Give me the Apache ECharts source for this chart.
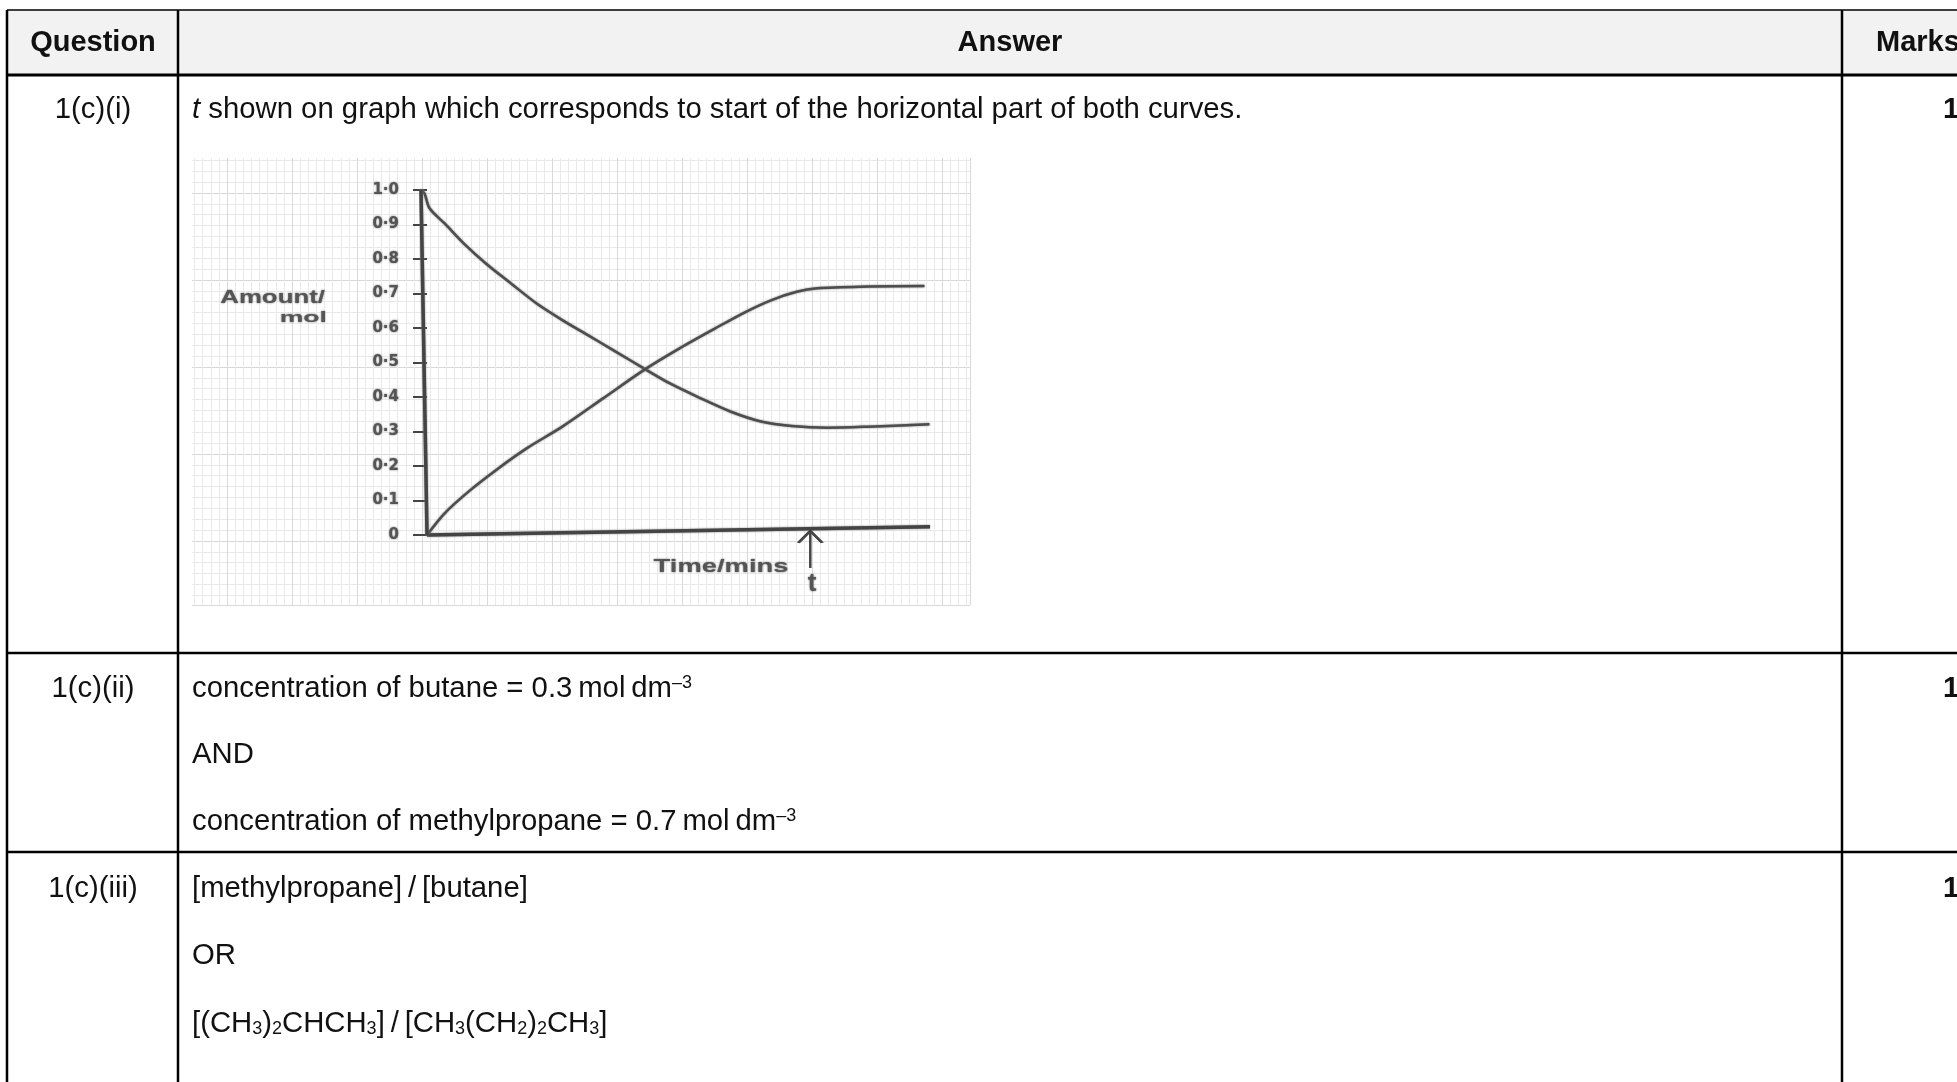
<!DOCTYPE html>
<html>
<head>
<meta charset="utf-8">
<style>
    html, body { margin: 0; padding: 0; background: #fff; }
    #chart { width: 1957px; height: 1082px; }
</style>
<script src="https://cdn.jsdelivr.net/npm/echarts@6/dist/echarts.min.js"></script>
</head>
<body>
<div id="chart"></div>
<script>
    // curves, [time, amount]
    var butane = [[-0.12,1.0],[-0.05,0.99],[0.05,0.947],[0.35,0.903],[0.76,0.841],[1.17,0.787],[1.67,0.729],[2.18,0.671],[2.69,0.623],[3.19,0.58],[3.7,0.536],[4.31,0.483],[4.82,0.44],[5.43,0.397],[6.03,0.358],[6.64,0.329],[7.25,0.316],[7.96,0.311],[8.77,0.314],[9.99,0.321]];
    var methylpropane = [[0,0],[0.35,0.063],[0.86,0.13],[1.37,0.188],[1.98,0.251],[2.69,0.314],[3.5,0.396],[4.31,0.478],[5.02,0.541],[5.73,0.599],[6.34,0.647],[6.85,0.681],[7.35,0.705],[7.76,0.715],[8.77,0.72],[9.89,0.722]];
    // the hand drawn axes are not quite straight on the paper
    var handXAxis = [[0,0],[10,0.024]];
    var handYAxis = [[-0.12,1],[0,0]];
    var tValue = 7.62;
    var tArrowFrom = -0.096;
    var tArrowTo = 0.012;
    var yTickValues = [0,0.1,0.2,0.3,0.4,0.5,0.6,0.7,0.8,0.9,1];
    var yTickLabels = ['0','0·1','0·2','0·3','0·4','0·5','0·6','0·7','0·8','0·9','1·0'];

    var headers = ['Question', 'Answer', 'Marks'];
    var questions = ['1(c)(i)', '1(c)(ii)', '1(c)(iii)'];
    var answerLines = [
        '{i|t}{n| shown on graph which corresponds to start of the horizontal part of both curves.}',
        '{n|concentration of butane = 0.3\u2009mol\u2009dm}{u|–3}',
        '{n|AND}',
        '{n|concentration of methylpropane = 0.7\u2009mol\u2009dm}{u|–3}',
        '{n|[methylpropane]\u2009/\u2009[butane]}',
        '{n|OR}',
        '{n|[(CH}{d|3}{n|)}{d|2}{n|CHCH}{d|3}{n|]\u2009/\u2009[CH}{d|3}{n|(CH}{d|2}{n|)}{d|2}{n|CH}{d|3}{n|]}'
    ];
    var answerY = [110, 689, 755, 822, 889, 956, 1024];
    var questionY = [110, 689, 889];
    var marks = ['1', '1', '1'];

    var FONT = '"Liberation Sans", Arial, sans-serif';
    var FS = 29.3;
    var rich = {
        n: { fontFamily: FONT, fontSize: FS, color: '#111' },
        i: { fontFamily: FONT, fontSize: FS, fontStyle: 'italic', color: '#111' },
        u: { fontFamily: FONT, fontSize: 18, color: '#111', verticalAlign: 'top' },
        d: { fontFamily: FONT, fontSize: 18, color: '#111', verticalAlign: 'bottom' }
    };

    function hline(y, w) {
        return { type: 'line', z: 10, shape: { x1: 7, y1: y, x2: 1957, y2: y }, style: { stroke: '#000', lineWidth: w } };
    }
    function vline(x) {
        return { type: 'line', z: 10, shape: { x1: x, y1: 10, x2: x, y2: 1082 }, style: { stroke: '#000', lineWidth: 2.5 } };
    }
    function label(x, y, text, align, extra, scaleX) {
        return {
            type: 'text', z: 11, x: x, y: y, scaleX: scaleX || 1,
            style: Object.assign({ text: text, align: align, verticalAlign: 'middle', font: FS + 'px ' + FONT, fill: '#111' }, extra || {})
        };
    }

    var graphic = [
        // hide the part of the paper grid that starts before the scan does
        { type: 'rect', z: 1, shape: { x: 160, y: 104, width: 812, height: 54 }, style: { fill: '#fff' } },
        { type: 'rect', z: 1, shape: { x: 160, y: 104, width: 32, height: 503 }, style: { fill: '#fff' } },
        { type: 'rect', z: 2, shape: { x: 7, y: 10, width: 1950, height: 65 }, style: { fill: '#f2f2f2' } },
        hline(10, 1.5), hline(75, 3), hline(653, 2.5), hline(852, 2.5),
        vline(7), vline(178), vline(1842)
    ];
    var boldFont = 'bold 29px ' + FONT;
    graphic.push(label(93, 43, headers[0], 'center', { font: boldFont }));
    graphic.push(label(1010, 43, headers[1], 'center', { font: boldFont }));
    graphic.push(label(1876, 43, headers[2], 'left', { font: boldFont }));
    questions.forEach(function (q, i) {
        graphic.push(label(93, questionY[i], q, 'center'));
        graphic.push(label(1943, questionY[i], marks[i], 'left', { font: boldFont }));
    });
    answerLines.forEach(function (line, i) {
        graphic.push(label(192, answerY[i], line, 'left', { rich: rich }));
    });
    // handwritten captions on the scan, wide and low
    var handStyle = { font: '600 19px ' + FONT, fill: '#555', textShadowColor: '#666', textShadowBlur: 2 };
    var handSmall = { font: '600 14px ' + FONT, fill: '#555', textShadowColor: '#666', textShadowBlur: 2 };
    graphic.push(label(325, 298, 'Amount/', 'right', handStyle, 1.36));
    graphic.push(label(327, 318, 'mol', 'right', handSmall, 1.9));
    graphic.push(label(721, 567, 'Time/mins', 'center', handStyle, 1.44));
    graphic.push(label(812, 584, 't', 'center', { font: '600 26px ' + FONT, fill: '#555', textShadowColor: '#666', textShadowBlur: 2 }));

    var curveStyle = { color: '#4d4d4d', width: 2.5, shadowColor: '#777', shadowBlur: 2 };
    var axisStyle = { color: '#444', width: 3.5, shadowColor: '#777', shadowBlur: 2 };

    var chart = echarts.init(document.getElementById('chart'));
    chart.setOption({
        animation: false,
        backgroundColor: '#fff',
        graphic: graphic,
        grid: [
            { left: 162, top: 106, width: 808, height: 499 },   // graph paper
            { left: 421, top: 190, width: 509, height: 345 }    // plotted graph
        ],
        xAxis: [
            {
                gridIndex: 0, type: 'value', min: 0, max: 12.43, interval: 1,
                axisLine: { show: false }, axisTick: { show: false }, axisLabel: { show: false },
                splitLine: { lineStyle: { color: '#d9d9d9', width: 1 } },
                minorTick: { show: false, splitNumber: 8 },
                minorSplitLine: { show: true, lineStyle: { color: '#e9e9e9', width: 1 } }
            },
            {
                gridIndex: 1, type: 'value', min: -0.12, max: 10,
                axisLine: { show: false }, axisTick: { show: false }, axisLabel: { show: false },
                splitLine: { show: false }
            }
        ],
        yAxis: [
            {
                gridIndex: 0, type: 'value', inverse: true, min: 0, max: 5.736, interval: 1,
                axisLine: { show: false }, axisTick: { show: false }, axisLabel: { show: false },
                splitLine: { lineStyle: { color: '#d9d9d9', width: 1 } },
                minorTick: { show: false, splitNumber: 8 },
                minorSplitLine: { show: true, lineStyle: { color: '#e9e9e9', width: 1 } }
            },
            {
                gridIndex: 1, type: 'value', min: 0, max: 1, interval: 0.1,
                axisLine: { show: false },
                axisTick: { show: true, length: 14, lineStyle: { color: '#444', width: 2 } },
                splitLine: { show: false },
                axisLabel: {
                    show: true, margin: 22, fontFamily: '"DejaVu Sans"', fontSize: 15, fontWeight: 'bold', color: '#555',
                    textShadowColor: '#666', textShadowBlur: 2,
                    formatter: function (v) {
                        var k = yTickValues.findIndex(function (t) { return Math.abs(t - v) < 0.001; });
                        return k < 0 ? '' : yTickLabels[k];
                    }
                }
            }
        ],
        series: [
            { name: 'butane', type: 'line', xAxisIndex: 1, yAxisIndex: 1, data: butane, smooth: 0.3, showSymbol: false, clip: false, lineStyle: curveStyle },
            { name: 'methylpropane', type: 'line', xAxisIndex: 1, yAxisIndex: 1, data: methylpropane, smooth: 0.3, showSymbol: false, clip: false, lineStyle: curveStyle },
            { name: 'x axis', type: 'line', xAxisIndex: 1, yAxisIndex: 1, data: handXAxis, showSymbol: false, clip: false, lineStyle: axisStyle },
            { name: 'y axis', type: 'line', xAxisIndex: 1, yAxisIndex: 1, data: handYAxis, showSymbol: false, clip: false, lineStyle: axisStyle },
            {
                name: 't', type: 'line', xAxisIndex: 1, yAxisIndex: 1, clip: false, showAllSymbol: true,
                lineStyle: { color: '#444', width: 2.5 },
                data: [
                    { value: [tValue, tArrowFrom], symbol: 'none' },
                    {
                        value: [tValue, tArrowTo], symbol: 'path://M0,10 L10,0 L20,10', symbolSize: [24, 12], symbolOffset: [0, '50%'],
                        itemStyle: { color: 'transparent', borderColor: '#444', borderWidth: 2.5, opacity: 1 }
                    }
                ]
            }
        ]
    });
</script>
</body>
</html>
